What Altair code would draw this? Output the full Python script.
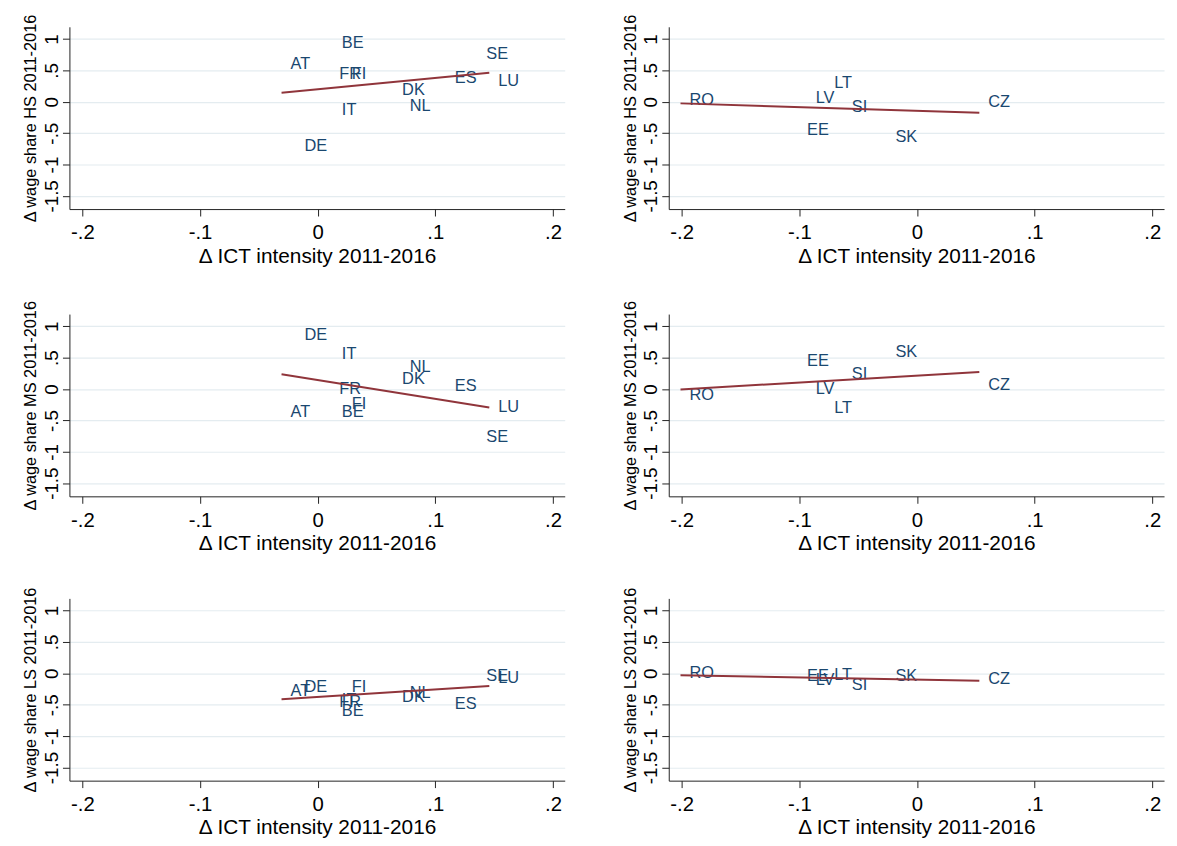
import altair as alt
import pandas as pd

# ---- data ----
old_countries = ["AT", "BE", "DE", "DK", "ES", "FI", "FR", "IT", "LU", "NL", "SE"]
old_ict = [-0.0307, 0.013, -0.0187, 0.0642, 0.109, 0.0215, 0.0108, 0.013, 0.1459, 0.0706, 0.1358]
old_hs = [0.60, 0.93, -0.71, 0.184, 0.38, 0.44, 0.44, -0.13, 0.337, -0.068, 0.763]
old_ms = [-0.365, -0.365, 0.867, 0.159, 0.048, -0.238, -0.006, 0.565, -0.292, 0.354, -0.757]
old_ls = [-0.284, -0.60, -0.215, -0.373, -0.49, -0.215, -0.46, -0.43, -0.073, -0.31, -0.041]

new_countries = ["CZ", "EE", "LT", "LV", "RO", "SI", "SK"]
new_ict = [0.053, -0.101, -0.078, -0.0937, -0.201, -0.063, -0.0259]
new_hs = [0.0, -0.447, 0.30, 0.063, 0.027, -0.084, -0.568]
new_ms = [0.063, 0.449, -0.308, 0.0, -0.095, 0.238, 0.592]
new_ls = [-0.095, -0.047, -0.032, -0.11, 0.0, -0.19, -0.047]

x_ticks = [-0.2, -0.1, 0, 0.1, 0.2]
y_ticks = [-1.5, -1, -0.5, 0, 0.5, 1]
x_title = "Δ ICT intensity 2011-2016"

FONT = "Liberation Sans"
NAVY = "#1a476f"
MAROON = "#90353b"
XDOM = [-0.211, 0.21]
YDOM = [-1.71, 1.195]
LBL = "replace(toString(datum.value), '0.', '.')"


def panel(countries, ict, vals, group):
    df = pd.DataFrame({"country": countries, "ict": ict, "ws": vals})
    base = alt.Chart(df)
    x = alt.X(
        "ict:Q",
        scale=alt.Scale(domain=XDOM, nice=False, zero=False),
        axis=alt.Axis(
            values=x_ticks, title=x_title, grid=False, labelExpr=LBL,
            tickSize=7, labelPadding=7, labelFontSize=20.5,
            titleFontSize=21, titlePadding=2,
        ),
    )
    y = alt.Y(
        "ws:Q",
        scale=alt.Scale(domain=YDOM, nice=False, zero=False),
        axis=alt.Axis(
            values=y_ticks, title=f"Δ wage share {group} 2011-2016", grid=True,
            labelExpr=LBL, labelAngle=270, labelAlign="center",
            labelBaseline="bottom", tickSize=7, labelPadding=1,
            labelFontSize=19, titleFontSize=16.5, titlePadding=4,
        ),
    )
    txt = base.mark_text(
        align="left", baseline="middle", dx=9, font=FONT, fontSize=16.5, color=NAVY
    ).encode(x=x, y=y, text="country:N")
    line = base.transform_regression("ict", "ws").mark_line(
        color=MAROON, strokeWidth=2
    ).encode(x=x, y=y)
    return alt.layer(txt, line).properties(width=500, height=184)


rows = []
for grp, ov, nv in [("HS", old_hs, new_hs), ("MS", old_ms, new_ms), ("LS", old_ls, new_ls)]:
    rows.append(
        alt.hconcat(
            panel(old_countries, old_ict, ov, grp),
            panel(new_countries, new_ict, nv, grp),
            spacing=58,
        )
    )

chart = (
    alt.vconcat(*rows, spacing=33)
    .properties(padding={"left": 15, "top": 1, "right": 5, "bottom": 5}, background="white")
    .configure_view(stroke=None)
    .configure_axis(
        labelFont=FONT, titleFont=FONT, labelColor="#000", titleColor="#000",
        titleFontWeight="normal", domainColor="#222", tickColor="#222",
        domainWidth=1, tickWidth=1, gridColor="#e4ecf0", gridWidth=1.2,
    )
)

chart.save("out.html", embed_options={"renderer": "svg", "actions": False})
